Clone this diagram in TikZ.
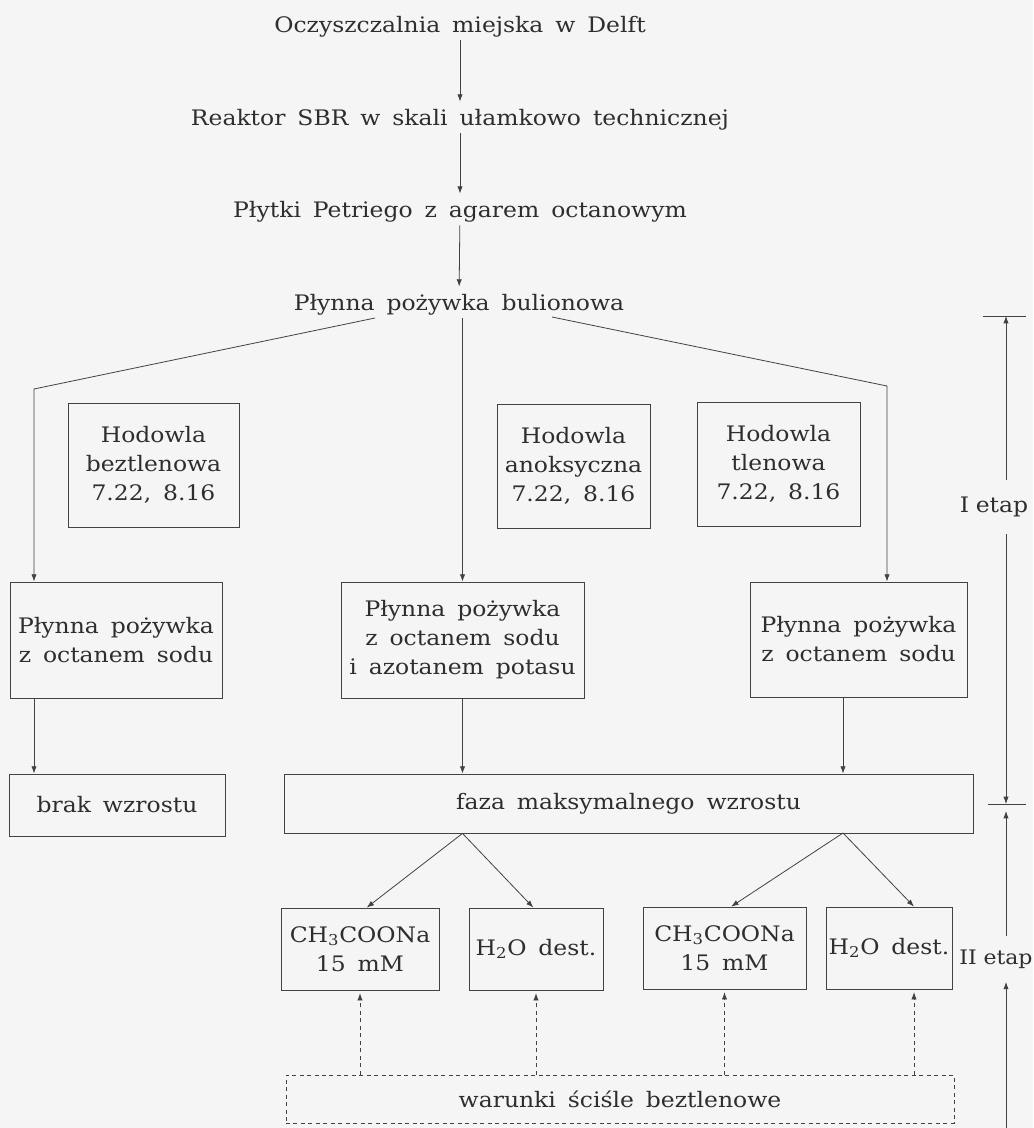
\documentclass[tikz,border=0pt]{standalone}
\usepackage{fontspec}
\setmainfont{DejaVu Serif}[FakeStretch=1.1,WordSpace=1.6]
\usetikzlibrary{positioning,arrows.meta}

\begin{document}
\begin{tikzpicture}[x=0.75pt,y=-0.75pt,>={Latex[length=5.5pt,width=4pt]},
font=\fontsize{16}{21.75}\selectfont,color=black!74,text=black!82,line width=0.6pt,
lbl/.style={anchor=base,inner sep=2.25pt,text height=15pt,text depth=3.75pt},
box/.style={draw,align=center,inner sep=0pt},
sz/.style 2 args={minimum width=#1*0.75pt,minimum height=#2*0.75pt},
dbox/.style={box,dash pattern=on 3pt off 2.6pt},
dline/.style={->,dash pattern=on 3pt off 2.6pt,shorten >=2pt}]
\fill[black!4] (0,0) rectangle (1033,1128);
\useasboundingbox (0,0) rectangle (1033,1128);
% top chain
\node[lbl] (t0) at (460,32) {Oczyszczalnia miejska w Delft};
\node[lbl] (t1) at (460,125) {Reaktor SBR w skali ułamkowo technicznej};
\node[lbl] (t2) at (460,217) {Płytki Petriego z agarem octanowym};
\node[lbl] (t3) at (459,310) {Płynna pożywka bulionowa};
\draw[->] (t0)--(t1); \draw[->] (t1)--(t2); \draw[->] (t2)--(t3);
% cultures
\node[box,sz={171}{124}] (hb) at (153.5,465) {Hodowla\\beztlenowa\\7.22, 8.16};
\node[box,sz={153}{124}] (ha) at (573.5,466) {Hodowla\\anoksyczna\\7.22, 8.16};
\node[box,sz={163}{124}] (ht) at (778.5,464) {Hodowla\\tlenowa\\7.22, 8.16};
% media
\node[box,sz={212}{116}] (p1) at (116,640) {Płynna pożywka\\z octanem sodu};
\node[box,sz={243}{116}] (p2) at (462.5,640) {Płynna pożywka\\z octanem sodu\\i azotanem potasu};
\node[box,sz={217}{115}] (p3) at (858.5,639.5) {Płynna pożywka\\z octanem sodu};
\node[box,sz={216}{62}] (brak) at (117,805) {brak wzrostu};
\node[box,sz={689}{59}] (faza) at (628.5,803.5) {faza maksymalnego wzrostu};
\node[box,sz={158}{82}] (c1) at (360,949) {CH\textsubscript{3}COONa\\15 mM};
\node[box,sz={134}{82}] (w1) at (536,949) {H\textsubscript{2}O dest.};
\node[box,sz={163}{82}] (c2) at (724.5,948) {CH\textsubscript{3}COONa\\15 mM};
\node[box,sz={126}{82}] (w2) at (889,948) {H\textsubscript{2}O dest.};
\node[dbox,sz={668}{48}] (war) at (620,1099) {warunki ściśle beztlenowe};
% stages
\node[inner sep=0pt,minimum height=54*0.75pt] (e1) at (994,507) {I\hspace{5pt}etap};
\node[inner sep=0pt,minimum height=45*0.75pt,font=\fontsize{15}{18}\selectfont] (e2) at (996,959) {II\hspace{5pt}etap};
\coordinate (bl) at (375,318); \coordinate (br) at (552,317);
\coordinate (kl) at (34,389); \coordinate (kr) at (887,386);
\coordinate (sr) at (843,833);
\coordinate (aw2) at ([xshift=18.75pt]w2.south);
\coordinate (d1) at (1006,316); \coordinate (d2) at (1006,804);
\coordinate (d3) at (1006,811); \coordinate (d4) at (1006,1128);
\draw[->] (bl)--(kl)--(kl |- p1.north); \draw[->] (br)--(kr)--(kr |- p3.north);
\draw[->] (t3.south -| p2.north)--(p2.north);
\draw[->] (kl |- p1.south)--(kl |- brak.north); \draw[->] (p2.south)--(p2.south |- faza.north);
\draw[->] (sr |- p3.south)--(sr |- faza.north);
\draw[->] (p2.south |- faza.south)--([xshift=5pt]c1.north); \draw[->] (p2.south |- faza.south)--([xshift=-2pt]w1.north);
\draw[->] (sr)--([xshift=5pt]c2.north); \draw[->] (sr)--(aw2 |- w2.north);
\draw[dline] (c1.south |- war.north)--(c1.south); \draw[dline] (w1.south |- war.north)--(w1.south);
\draw[dline] (c2.south |- war.north)--(c2.south); \draw[dline] (aw2 |- war.north)--(aw2);
\draw ([xshift=-17.25pt]d1)--([xshift=15pt]d1); \draw ([xshift=-13.5pt]d2)--([xshift=15pt]d2);
\draw[->] (d1 |- e1.north)--(d1); \draw[->] (d1 |- e1.south)--(d2);
\draw[->] (d1 |- e2.north)--(d3); \draw[->] (d4)--(d1 |- e2.south);
\end{tikzpicture}
\end{document}
